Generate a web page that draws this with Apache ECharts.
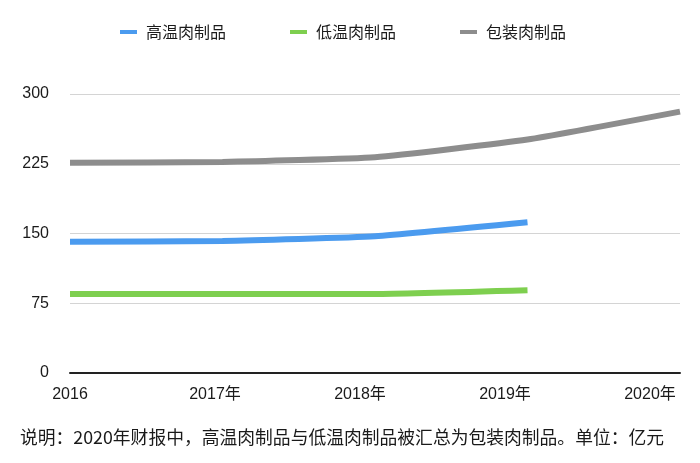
<!DOCTYPE html>
<html>
<head>
<meta charset="utf-8">
<script src="https://cdn.jsdelivr.net/npm/echarts@6/dist/echarts.min.js"></script>
<style>
  html, body { margin: 0; padding: 0; background: #fff; }
  #chartDiv { width: 700px; height: 463px; }
</style>
</head>
<body>
<div id="chartDiv"></div>
<script>
let meatChart = echarts.init(document.getElementById("chartDiv"));

// 数据
const years = ["2016", "2017年", "2018年", "2019年", "2020年"];
const seriesNames = ["高温肉制品", "低温肉制品", "包装肉制品"];
const highTemp = [141, 142, 147, 162, null];
const lowTemp = [85, 85, 85, 89, null];
const packaged = [226, 227, 232, 251, 281];
const yTicks = { min: 0, max: 300, interval: 75 };
const noteText = "说明：2020年财报中，高温肉制品与低温肉制品被汇总为包装肉制品。单位：亿元";

const colors = ["#4b9bef", "#7ecf4f", "#8d8d8d"];
const cjkFont = "'Noto Sans CJK SC', sans-serif";
const numFont = "'Liberation Sans', 'Noto Sans CJK SC', sans-serif";

function lineSeries(name, data, color) {
    return {
        name: name,
        type: "line",
        data: data,
        smooth: 0.15,
        showSymbol: false,
        symbol: "none",
        connectNulls: false,
        lineStyle: { width: 6, color: color, cap: "butt" },
        itemStyle: { color: color },
        emphasis: { disabled: true },
        xAxisIndex: 0,
        yAxisIndex: 0,
    };
}

meatChart.setOption({
    animation: false,
    color: colors,
    title: {
        text: noteText,
        left: 20,
        top: 428,
        padding: 0,
        textStyle: {
            fontFamily: cjkFont,
            fontSize: 17.8,
            fontWeight: "normal",
            color: "#1a1a1a",
        },
    },
    legend: {
        data: seriesNames.map(function (n, i) {
            return { name: n, icon: "rect", itemStyle: { color: colors[i] } };
        }),
        left: 120,
        top: 24,
        padding: 0,
        itemWidth: 17,
        itemHeight: 4,
        itemGap: 64,
        textStyle: {
            fontFamily: cjkFont,
            fontSize: 16,
            color: "#1a1a1a",
            padding: [0, 0, 0, 4],
        },
    },
    grid: [
        { left: 70, right: 20, top: 94, bottom: 90 },
        // 只用于放置x轴标签
        { left: 70, right: 50, top: 94, bottom: 90 },
    ],
    xAxis: [
        {
            type: "category",
            gridIndex: 0,
            data: years,
            boundaryGap: false,
            axisLine: { show: true, lineStyle: { color: "#222", width: 2 } },
            axisTick: { show: false },
            axisLabel: { show: false },
            splitLine: { show: false },
        },
        {
            type: "category",
            gridIndex: 1,
            data: years,
            boundaryGap: false,
            axisLine: { show: false },
            axisTick: { show: false },
            axisLabel: {
                margin: 14,
                fontFamily: numFont,
                fontSize: 16,
                color: "#1a1a1a",
            },
            splitLine: { show: false },
        },
    ],
    yAxis: [
        {
            type: "value",
            gridIndex: 0,
            min: yTicks.min,
            max: yTicks.max,
            interval: yTicks.interval,
            axisLine: { show: false },
            axisTick: { show: false },
            axisLabel: {
                margin: 21,
                fontFamily: numFont,
                fontSize: 16,
                color: "#1a1a1a",
            },
            splitLine: { lineStyle: { color: "#d4d4d4", width: 1 } },
        },
        {
            type: "value",
            gridIndex: 1,
            min: yTicks.min,
            max: yTicks.max,
            show: false,
        },
    ],
    series: [
        lineSeries(seriesNames[0], highTemp, colors[0]),
        lineSeries(seriesNames[1], lowTemp, colors[1]),
        lineSeries(seriesNames[2], packaged, colors[2]),
    ],
});

window.onresize = function () {
    meatChart.resize();
};
</script>
</body>
</html>
